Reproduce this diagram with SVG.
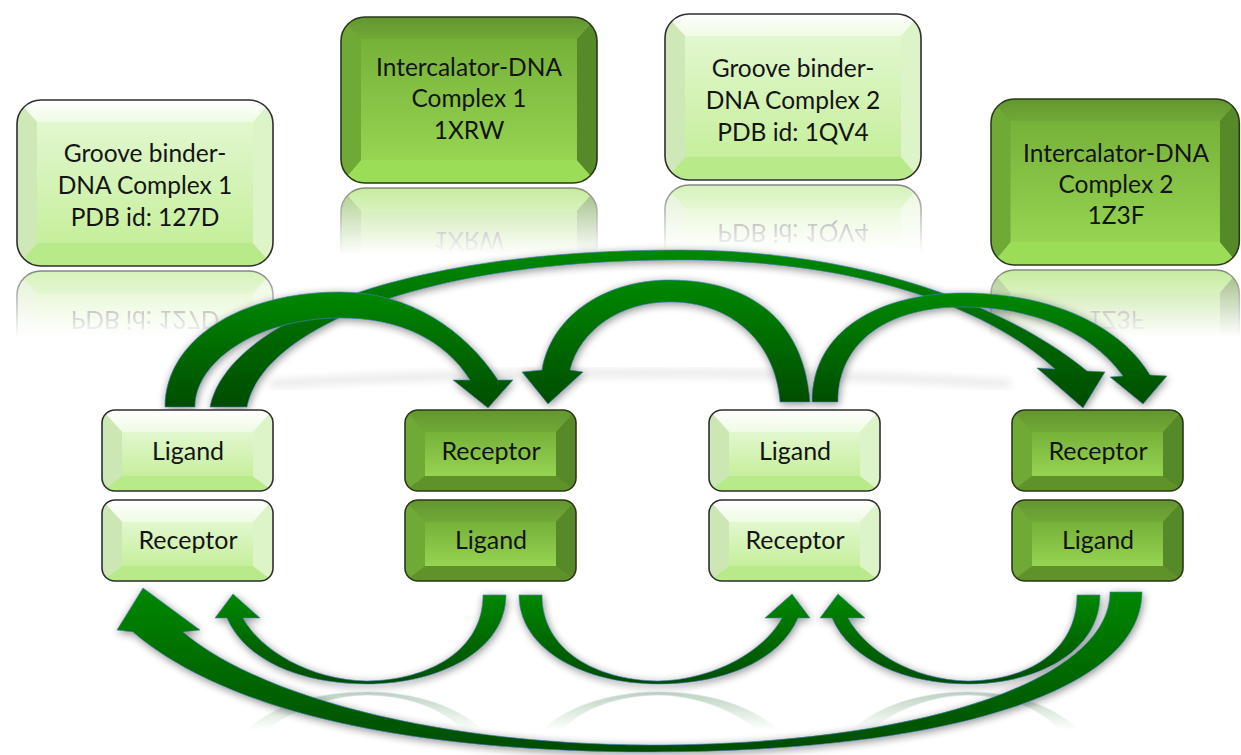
<svg xmlns="http://www.w3.org/2000/svg" xmlns:xlink="http://www.w3.org/1999/xlink" width="1241" height="755" viewBox="0 0 1241 755">
<style>
.t{font-family:Lato,"Liberation Sans","DejaVu Sans",sans-serif;font-size:24.5px;fill:#141414;text-anchor:middle}
.r{font-family:Lato,"Liberation Sans","DejaVu Sans",sans-serif;font-size:25px;fill:#141414;text-anchor:middle}
.arr{fill:url(#ag);stroke:#4a7ebb;stroke-width:0.8;stroke-opacity:0.8}
.ol{fill:none;stroke-width:1.6}
</style>
<defs>
<linearGradient id="ag" x1="0" y1="0" x2="0" y2="1">
<stop offset="0" stop-color="#008800"/><stop offset="1" stop-color="#004c00"/>
</linearGradient>
<linearGradient id="fade" x1="0" y1="0" x2="0" y2="1">
<stop offset="0" stop-color="#fff" stop-opacity="0.6"/><stop offset="1" stop-color="#fff" stop-opacity="0"/>
</linearGradient>
<linearGradient id="fade2" x1="0" y1="0" x2="0" y2="1">
<stop offset="0" stop-color="#fff" stop-opacity="0.3"/><stop offset="1" stop-color="#fff" stop-opacity="0"/>
</linearGradient>
<linearGradient id="lTop" x1="0" y1="0" x2="0" y2="1"><stop offset="0" stop-color="#ffffff"/><stop offset="1" stop-color="#eefbe3"/></linearGradient>
<linearGradient id="lFace" x1="0" y1="0" x2="0" y2="1"><stop offset="0" stop-color="#e2f7cf"/><stop offset="1" stop-color="#c6ef9c"/></linearGradient>
<linearGradient id="dTop" x1="0" y1="0" x2="0" y2="1"><stop offset="0" stop-color="#62962f"/><stop offset="1" stop-color="#71a938"/></linearGradient>
<linearGradient id="dFace" x1="0" y1="0" x2="0" y2="1"><stop offset="0" stop-color="#76b139"/><stop offset="1" stop-color="#96d452"/></linearGradient>
<filter id="sh" x="-10%" y="-10%" width="120%" height="130%">
<feGaussianBlur in="SourceAlpha" stdDeviation="4"/>
<feOffset dx="1" dy="2"/>
<feComponentTransfer><feFuncA type="linear" slope="0.45"/></feComponentTransfer>
<feMerge><feMergeNode/><feMergeNode in="SourceGraphic"/></feMerge>
</filter>
<filter id="blur" x="-5%" y="-50%" width="110%" height="200%"><feGaussianBlur stdDeviation="4"/></filter>
<clipPath id="cBig"><rect x="0" y="0" width="256" height="166" rx="24"/></clipPath>
<clipPath id="cSm"><rect x="0" y="0" width="171" height="81" rx="13"/></clipPath>
<g id="bigL">
<g clip-path="url(#cBig)">
<rect x="0" y="0" width="256" height="166" fill="#d6eec1"/>
<polygon points="0,0 256,0 236,22 20,22" fill="url(#lTop)"/>
<polygon points="0,166 256,166 236,143 20,143" fill="#b8ea89"/>
<polygon points="0,0 20,22 20,143 0,166" fill="#cfe8b8"/>
<polygon points="256,0 236,22 236,143 256,166" fill="#ddf4c9"/>
<rect x="20" y="22" width="216" height="121" fill="url(#lFace)"/>
</g>
<rect x="0" y="0" width="256" height="166" rx="24" class="ol" stroke="#2e2e2e"/>
</g>
<g id="bigD">
<g clip-path="url(#cBig)">
<rect x="0" y="0" width="256" height="166" fill="#6a9d31"/>
<polygon points="0,0 256,0 236,22 20,22" fill="url(#dTop)"/>
<polygon points="0,166 256,166 236,143 20,143" fill="#9bdd57"/>
<polygon points="0,0 20,22 20,143 0,166" fill="#6fa936"/>
<polygon points="256,0 236,22 236,143 256,166" fill="#568a28"/>
<rect x="20" y="22" width="216" height="121" fill="url(#dFace)"/>
</g>
<rect x="0" y="0" width="256" height="166" rx="24" class="ol" stroke="#2a3819" stroke-width="2"/>
</g>
<g id="smL">
<g clip-path="url(#cSm)">
<rect x="0" y="0" width="171" height="81" fill="#d6eec1"/>
<polygon points="0,0 171,0 151,22 20,22" fill="url(#lTop)"/>
<polygon points="0,81 171,81 151,66 20,66" fill="#b9ea8a"/>
<polygon points="0,0 20,22 20,66 0,81" fill="#cce6b4"/>
<polygon points="171,0 151,22 151,66 171,81" fill="#ddf4c9"/>
<rect x="20" y="22" width="131" height="44" fill="url(#lFace)"/>
</g>
<rect x="0" y="0" width="171" height="81" rx="13" class="ol" stroke="#2e2e2e"/>
</g>
<g id="smD">
<g clip-path="url(#cSm)">
<rect x="0" y="0" width="171" height="81" fill="#6a9d31"/>
<polygon points="0,0 171,0 151,22 20,22" fill="url(#dTop)"/>
<polygon points="0,81 171,81 151,66 20,66" fill="#5f9229"/>
<polygon points="0,0 20,22 20,66 0,81" fill="#6fa936"/>
<polygon points="171,0 151,22 151,66 171,81" fill="#568a28"/>
<rect x="20" y="22" width="131" height="44" fill="url(#dFace)"/>
</g>
<rect x="0" y="0" width="171" height="81" rx="13" class="ol" stroke="#2a3819" stroke-width="2"/>
</g>
<mask id="m1" maskUnits="userSpaceOnUse" x="0" y="0" width="1241" height="755"><rect x="10" y="268" width="272" height="70" fill="url(#fade)"/></mask>
<mask id="m2" maskUnits="userSpaceOnUse" x="0" y="0" width="1241" height="755"><rect x="334" y="185" width="272" height="70" fill="url(#fade)"/></mask>
<mask id="m3" maskUnits="userSpaceOnUse" x="0" y="0" width="1241" height="755"><rect x="658" y="182" width="272" height="70" fill="url(#fade)"/></mask>
<mask id="m4" maskUnits="userSpaceOnUse" x="0" y="0" width="1241" height="755"><rect x="984" y="267" width="257" height="70" fill="url(#fade)"/></mask>
<mask id="mb" maskUnits="userSpaceOnUse" x="0" y="0" width="1241" height="755"><rect x="150" y="686" width="1000" height="44" fill="url(#fade2)"/></mask>
</defs>

<rect x="0" y="0" width="1241" height="755" fill="#ffffff"/>

<path d="M270,384 Q640,362 1010,384" fill="none" stroke="#8a8a8a" stroke-width="6" opacity="0.25" filter="url(#blur)"/>

<g id="n-groove1">
<use xlink:href="#bigL" x="17" y="100"/>
<text class="t" x="145" y="162">Groove binder-</text>
<text class="t" x="145" y="194">DNA Complex 1</text>
<text class="t" x="145" y="226">PDB id: 127D</text>
<g mask="url(#m1)"><g transform="translate(0,537) scale(1,-1)">
<use xlink:href="#bigL" x="17" y="100"/>
<text class="t" x="145" y="226">PDB id: 127D</text>
</g></g>
</g>

<g id="n-inter1">
<use xlink:href="#bigD" x="341" y="17"/>
<text class="t" x="469" y="76">Intercalator-DNA</text>
<text class="t" x="469" y="107">Complex 1</text>
<text class="t" x="469" y="139">1XRW</text>
<g mask="url(#m2)"><g transform="translate(0,371) scale(1,-1)">
<use xlink:href="#bigD" x="341" y="17"/>
<text class="t" x="469" y="139">1XRW</text>
</g></g>
</g>

<g id="n-groove2">
<use xlink:href="#bigL" x="665" y="14"/>
<text class="t" x="793" y="77">Groove binder-</text>
<text class="t" x="793" y="109">DNA Complex 2</text>
<text class="t" x="793" y="141">PDB id: 1QV4</text>
<g mask="url(#m3)"><g transform="translate(0,365) scale(1,-1)">
<use xlink:href="#bigL" x="665" y="14"/>
<text class="t" x="793" y="141">PDB id: 1QV4</text>
</g></g>
</g>

<g id="n-inter2">
<use xlink:href="#bigD" transform="translate(991,99) scale(0.97,1)"/>
<text class="t" x="1116" y="162">Intercalator-DNA</text>
<text class="t" x="1116" y="193">Complex 2</text>
<text class="t" x="1116" y="224">1Z3F</text>
<g mask="url(#m4)"><g transform="translate(0,535) scale(1,-1)">
<use xlink:href="#bigD" transform="translate(991,99) scale(0.97,1)"/>
<text class="t" x="1116" y="224">1Z3F</text>
</g></g>
</g>

<g id="connectors">
<g filter="url(#sh)">
<path id="aB" class="arr" d="M210,407 C225,330 380,250 680,250 C850,250 1000,300 1087,371 L1105,372 L1083,408 L1037,368 L1055,369 C1000,318 880,260 680,260 C420,260 262,330 247,407 Z"/>
<path id="aA" class="arr" d="M165,407 C165,340 240,292 340,292 C410,292 465,330 498,380 L513,380 L488,408 L453,380 L470,380 C445,340 400,318 340,318 C260,318 195,360 195,407 Z"/>
<path id="aC" class="arr" d="M810,402 C805,330 760,280 670,280 C600,280 550,320 542,370 L522,372 L548,404 L583,372 L570,370 C580,330 620,302 670,302 C730,302 775,340 780,402 Z"/>
<path id="aD" class="arr" d="M812,402 C812,330 880,293 963,293 C1050,293 1120,325 1150,375 L1167,376 L1143,404 L1110,377 L1123,376 C1090,330 1030,307 963,307 C890,307 838,340 838,402 Z"/>
</g>
<g mask="url(#mb)">
<use xlink:href="#aE" transform="translate(0,1376) scale(1,-1)"/>
<use xlink:href="#aH" transform="translate(0,1376) scale(1,-1)"/>
<use xlink:href="#aI" transform="translate(0,1376) scale(1,-1)"/>
</g>
<g filter="url(#sh)">
<path id="aF" class="arr" d="M1142,592 C1142,690 950,752 650,752 C420,752 230,715 133,632 L117,630 L143,588 L200,630 L183,632 C250,690 420,744 650,745 C920,745 1110,680 1110,592 Z"/>
<path id="aE" class="arr" d="M506,595 C506,650 440,684 367,684 C300,684 245,660 227,618 L215,618 L233,594 L260,618 L243,618 C260,650 310,680 367,681 C430,680 483,650 483,595 Z"/>
<path id="aH" class="arr" d="M519,595 C519,650 585,684 658,684 C725,684 780,660 798,618 L810,618 L792,594 L765,618 L782,618 C765,650 715,680 658,681 C595,680 542,650 542,595 Z"/>
<path id="aI" class="arr" d="M1100,595 C1100,650 1040,684 968,684 C905,684 850,660 832,618 L820,618 L838,594 L865,618 L848,618 C865,650 912,680 968,681 C1030,680 1077,650 1077,595 Z"/>
</g>
</g>

<g id="n-c1-ligand"><use xlink:href="#smL" x="102" y="410"/><text class="r" x="188" y="460">Ligand</text></g>
<g id="n-c1-receptor"><use xlink:href="#smL" x="102" y="500"/><text class="r" x="188" y="549">Receptor</text></g>
<g id="n-c2-receptor"><use xlink:href="#smD" x="405" y="410"/><text class="r" x="491" y="460">Receptor</text></g>
<g id="n-c2-ligand"><use xlink:href="#smD" x="405" y="500"/><text class="r" x="491" y="549">Ligand</text></g>
<g id="n-c3-ligand"><use xlink:href="#smL" x="709" y="410"/><text class="r" x="795" y="460">Ligand</text></g>
<g id="n-c3-receptor"><use xlink:href="#smL" x="709" y="500"/><text class="r" x="795" y="549">Receptor</text></g>
<g id="n-c4-receptor"><use xlink:href="#smD" x="1012" y="410"/><text class="r" x="1098" y="460">Receptor</text></g>
<g id="n-c4-ligand"><use xlink:href="#smD" x="1012" y="500"/><text class="r" x="1098" y="549">Ligand</text></g>
</svg>
